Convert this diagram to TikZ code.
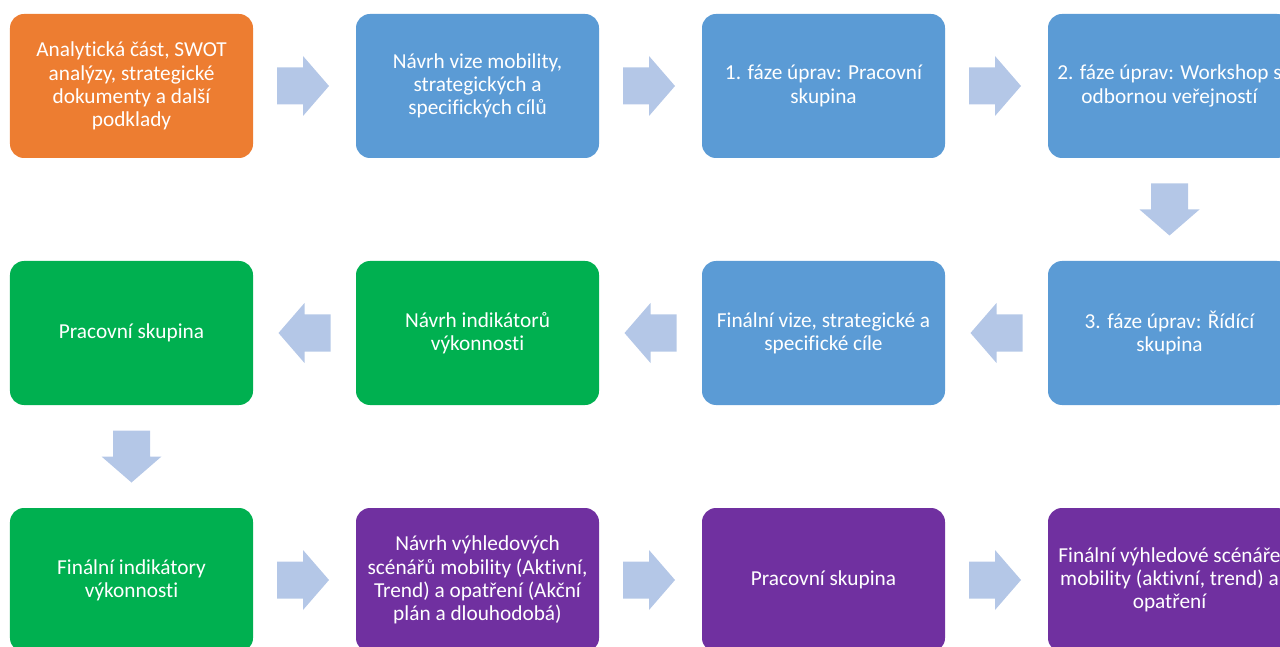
\documentclass[tikz,border=0pt]{standalone}
\usepackage{fontspec}
\setmainfont{Carlito}[Ligatures=NoCommon]
\usetikzlibrary{calc}
\definecolor{corange}{HTML}{ED7D31}
\definecolor{cblue}{HTML}{5B9BD5}
\definecolor{cgreen}{HTML}{00B050}
\definecolor{cpurple}{HTML}{7030A0}
\definecolor{carrow}{HTML}{B4C7E7}
\tikzset{
  box/.style={rectangle, rounded corners=14bp, minimum width=243bp, minimum height=144bp,
    inner sep=0pt, text=white, align=center, font=\fontsize{21.3bp}{23.3bp}\selectfont},
  blockarrow/.pic={\fill[carrow] (-26,-18.5) -- (0,-18.5) -- (0,-30) -- (26,0) -- (0,30) -- (0,18.5) -- (-26,18.5) -- cycle;}
}
\begin{document}
\begin{tikzpicture}[x=1bp,y=-1bp]
\useasboundingbox (0,0) rectangle (1280,647);
\clip (0,0) rectangle (1280,647);
% row 1
\node[box, fill=corange] (a1) at (131.5,86) {Analytická část, SWOT\\analýzy, strategické\\dokumenty a další\\podklady};
\node[box, fill=cblue] (a2) at (477.5,86) {Návrh vize mobility,\\strategických a\\specifických cílů};
\node[box, fill=cblue] (a3) at (823.5,86) {1. fáze úprav: Pracovní\\skupina};
\node[box, fill=cblue] (a4) at (1169.5,86) {2. fáze úprav: Workshop s\\odbornou veřejností};
% row 2
\node[box, fill=cgreen] (b1) at (131.5,333) {Pracovní skupina};
\node[box, fill=cgreen] (b2) at (477.5,333) {Návrh indikátorů\\výkonnosti};
\node[box, fill=cblue] (b3) at (823.5,333) {Finální vize, strategické a\\specifické cíle};
\node[box, fill=cblue] (b4) at (1169.5,333) {3. fáze úprav: Řídící\\skupina};
% row 3
\node[box, fill=cgreen] (c1) at (131.5,580) {Finální indikátory\\výkonnosti};
\node[box, fill=cpurple] (c2) at (477.5,580) {Návrh výhledových\\scénářů mobility (Aktivní,\\Trend) a opatření (Akční\\plán a dlouhodobá)};
\node[box, fill=cpurple] (c3) at (823.5,580) {Pracovní skupina};
\node[box, fill=cpurple] (c4) at (1169.5,580) {Finální výhledové scénáře\\mobility (aktivní, trend) a\\opatření};
% arrows
\pic at ($(a1.east)!0.5!(a2.west)+(-1.5,0)$) {blockarrow};
\pic at ($(a2.east)!0.5!(a3.west)+(-1.5,0)$) {blockarrow};
\pic at ($(a3.east)!0.5!(a4.west)+(-1.5,0)$) {blockarrow};
\pic[rotate=-90] at ($(a4.south)!0.5!(b4.north)$) {blockarrow};
\pic[rotate=180] at ($(b4.west)!0.5!(b3.east)$) {blockarrow};
\pic[rotate=180] at ($(b3.west)!0.5!(b2.east)$) {blockarrow};
\pic[rotate=180] at ($(b2.west)!0.5!(b1.east)$) {blockarrow};
\pic[rotate=-90] at ($(b1.south)!0.5!(c1.north)$) {blockarrow};
\pic at ($(c1.east)!0.5!(c2.west)+(-1.5,0)$) {blockarrow};
\pic at ($(c2.east)!0.5!(c3.west)+(-1.5,0)$) {blockarrow};
\pic at ($(c3.east)!0.5!(c4.west)+(-1.5,0)$) {blockarrow};
\end{tikzpicture}
\end{document}
